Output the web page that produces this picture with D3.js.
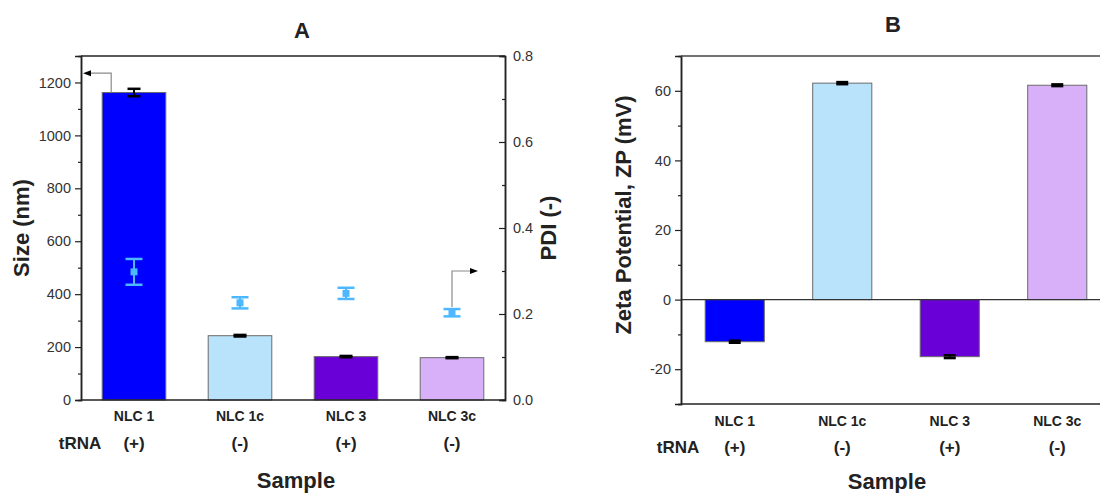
<!DOCTYPE html>
<html>
<head>
<meta charset="utf-8">
<script src="https://cdn.jsdelivr.net/npm/d3@7"></script>
<style>
  html, body { margin: 0; padding: 0; background: #fff; }
  svg { display: block; font-family: "Liberation Sans", Arial, sans-serif; }
</style>
</head>
<body>
<svg id="chart" width="1100" height="493"></svg>
<script>
// Samples and their tRNA loading
const categories = ["NLC 1", "NLC 1c", "NLC 3", "NLC 3c"];
const trnaLabels = ["(+)", "(-)", "(+)", "(-)"];

// Panel A: particle size (left axis) and PDI (right axis)
const sizeValues = [1162, 243, 164, 160];
const sizeErrors = [14, 3, 2.5, 2];
const pdiValues = [0.298, 0.226, 0.248, 0.203];
const pdiErrors = [0.03, 0.013, 0.013, 0.0085];

// Panel B: zeta potential
const zetaValues = [-12.1, 62.2, -16.4, 61.6];
const zetaErrors = [0.3, 0.3, 0.4, 0.25];

const barColors = ["#0000ff", "#b8e3fb", "#6a00d8", "#d7b0f9"];
const pdiColor = "#4db8ff";

const sizeTicks = [0, 200, 400, 600, 800, 1000, 1200];
const sizeMinor = [100, 300, 500, 700, 900, 1100];
const pdiTicks = [0.0, 0.2, 0.4, 0.6, 0.8];
const pdiMinor = [0.1, 0.3, 0.5, 0.7];
const zetaTicks = [-20, 0, 20, 40, 60];
const zetaMinor = [-30, -10, 10, 30, 50];

const svg = d3.select("#chart");
const axisColor = "#222";
const labelColor = "#222";
const plainInt = d => String(d);

const rows = categories.map((c, i) => ({
  cat: c, trna: trnaLabels[i], size: sizeValues[i], sizeErr: sizeErrors[i],
  pdi: pdiValues[i], pdiErr: pdiErrors[i], zeta: zetaValues[i], zetaErr: zetaErrors[i],
  color: barColors[i]
}));

// ---------- Panel A ----------
const A = { left: 81, right: 505, top: 56, bottom: 400 };
const xA = d3.scaleBand().domain(categories).range([A.left, A.right]).paddingInner(0.4).paddingOuter(0.2);
const ySize = d3.scaleLinear().domain([0, 1300]).range([A.bottom, A.top]);
const yPdi = d3.scaleLinear().domain([0, 0.8]).range([A.bottom, A.top]);

const gA = svg.append("g");

gA.selectAll("rect.bar").data(rows).join("rect")
  .attr("class", "bar")
  .attr("x", d => xA(d.cat))
  .attr("width", xA.bandwidth())
  .attr("y", d => ySize(d.size))
  .attr("height", d => ySize(0) - ySize(d.size))
  .attr("fill", d => d.color)
  .attr("stroke", "#6b6b6b")
  .attr("stroke-width", 1);

function errorBar(g, cx, yTop, yBot, capW, color, width) {
  g.append("line").attr("x1", cx).attr("x2", cx).attr("y1", yTop).attr("y2", yBot)
    .attr("stroke", color).attr("stroke-width", width);
  [yTop, yBot].forEach(y => g.append("line")
    .attr("x1", cx - capW / 2).attr("x2", cx + capW / 2).attr("y1", y).attr("y2", y)
    .attr("stroke", color).attr("stroke-width", width + 0.5));
}

rows.forEach(d => {
  const cx = xA(d.cat) + xA.bandwidth() / 2;
  errorBar(gA, cx, ySize(d.size + d.sizeErr), ySize(d.size - d.sizeErr), 13, "#000", 2);
});

// PDI points with error bars
rows.forEach(d => {
  const cx = xA(d.cat) + xA.bandwidth() / 2;
  errorBar(gA, cx, yPdi(d.pdi + d.pdiErr), yPdi(d.pdi - d.pdiErr), 17, pdiColor, 2);
  gA.append("rect").attr("x", cx - 3.5).attr("y", yPdi(d.pdi) - 3.5)
    .attr("width", 7).attr("height", 7).attr("fill", pdiColor);
});

// Arrows pointing each series to its axis
function arrow(g, pts, dir) {
  const [tx, ty] = pts[pts.length - 1];
  const head = 8, half = 3;
  const line = pts.slice();
  line[line.length - 1] = [tx - dir * head, ty];
  g.append("path").attr("d", d3.line()(line)).attr("fill", "none")
    .attr("stroke", "#8a8a8a").attr("stroke-width", 1.2);
  g.append("path")
    .attr("d", `M${tx},${ty} L${tx - dir * head},${ty - half} L${tx - dir * head},${ty + half} Z`)
    .attr("fill", "#000");
}
{
  const x0 = xA("NLC 1") + 9;
  arrow(gA, [[x0, ySize(sizeValues[0])], [x0, ySize(1235)], [A.left + 2, ySize(1235)]], -1);
  const i = 3;
  const cx = xA(categories[i]) + xA.bandwidth() / 2;
  arrow(gA, [[cx, yPdi(pdiValues[i] + pdiErrors[i]) - 2], [cx, yPdi(0.3)], [A.right - 27, yPdi(0.3)]], 1);
}

// Axes A
gA.append("g").attr("transform", `translate(${A.left},0)`)
  .call(d3.axisLeft(ySize).tickValues(sizeTicks).tickSize(6).tickPadding(4).tickFormat(plainInt));
gA.append("g").attr("transform", `translate(${A.left},0)`)
  .call(d3.axisLeft(ySize).tickValues(sizeMinor).tickSize(3).tickFormat(""));
gA.append("g").attr("transform", `translate(${A.right},0)`)
  .call(d3.axisRight(yPdi).tickValues(pdiTicks).tickSize(-6).tickPadding(8).tickFormat(d3.format(".1f")));
gA.append("g").attr("transform", `translate(${A.right},0)`)
  .call(d3.axisRight(yPdi).tickValues(pdiMinor).tickSize(-3).tickFormat(""));
gA.append("line").attr("x1", A.left).attr("x2", A.right).attr("y1", A.top).attr("y2", A.top)
  .attr("stroke", axisColor).attr("stroke-width", 1.5);
gA.append("line").attr("x1", A.left).attr("x2", A.right).attr("y1", A.bottom).attr("y2", A.bottom)
  .attr("stroke", axisColor).attr("stroke-width", 1.5);

// ---------- Panel B ----------
const B = { left: 681, right: 1111, top: 56, bottom: 404 };
const xB = d3.scaleBand().domain(categories).range([B.left, B.right]).paddingInner(0.45).paddingOuter(0.225);
const yZeta = d3.scaleLinear().domain([-30, 70]).range([B.bottom, B.top]);

const gB = svg.append("g");
gB.selectAll("rect.bar").data(rows).join("rect")
  .attr("class", "bar")
  .attr("x", d => xB(d.cat))
  .attr("width", xB.bandwidth())
  .attr("y", d => yZeta(Math.max(0, d.zeta)))
  .attr("height", d => Math.abs(yZeta(d.zeta) - yZeta(0)))
  .attr("fill", d => d.color)
  .attr("stroke", "#6b6b6b")
  .attr("stroke-width", 1);

rows.forEach(d => {
  const cx = xB(d.cat) + xB.bandwidth() / 2;
  errorBar(gB, cx, yZeta(d.zeta + d.zetaErr), yZeta(d.zeta - d.zetaErr), 12, "#000", 2);
});

gB.append("line").attr("x1", B.left).attr("x2", B.right).attr("y1", yZeta(0)).attr("y2", yZeta(0))
  .attr("stroke", "#333").attr("stroke-width", 1.2);

gB.append("g").attr("transform", `translate(${B.left},0)`)
  .call(d3.axisLeft(yZeta).tickValues(zetaTicks).tickSize(6).tickPadding(4).tickFormat(plainInt));
gB.append("g").attr("transform", `translate(${B.left},0)`)
  .call(d3.axisLeft(yZeta).tickValues(zetaMinor).tickSize(3).tickFormat(""));
gB.append("line").attr("x1", B.left).attr("x2", B.right).attr("y1", B.top).attr("y2", B.top)
  .attr("stroke", "#444").attr("stroke-width", 1.5);
gB.append("line").attr("x1", B.left).attr("x2", B.right).attr("y1", B.bottom).attr("y2", B.bottom)
  .attr("stroke", axisColor).attr("stroke-width", 1.5);

// Axis styling
svg.selectAll(".domain").attr("stroke", axisColor).attr("stroke-width", 1.5);
svg.selectAll(".tick line").attr("stroke", axisColor).attr("stroke-width", 1.2);
svg.selectAll(".tick text").attr("font-size", 14.5).attr("fill", "#333")
  .attr("font-family", "'Liberation Sans', Arial, sans-serif");

// ---------- Text ----------
function text(x, y, str, size, opts = {}) {
  const t = svg.append("text").attr("x", x).attr("y", y).text(str)
    .attr("font-size", size).attr("font-weight", opts.weight || "bold")
    .attr("fill", labelColor).attr("text-anchor", opts.anchor || "middle")
    .attr("dy", "0.35em");
  if (opts.rotate) t.attr("transform", `rotate(${opts.rotate},${x},${y})`);
  return t;
}

// Titles
text((A.left + A.right) / 2 + 9, 30, "A", 22);
text(893, 24, "B", 22);

// Category and tRNA rows
categories.forEach((c, i) => {
  const ca = xA(c) + xA.bandwidth() / 2;
  text(ca, 416.5, c, 14);
  text(ca, 443.5, trnaLabels[i], 17);
  const cb = xB(c) + xB.bandwidth() / 2;
  text(cb, 421.5, c, 14);
  text(cb, 447, trnaLabels[i], 17);
});
text(A.left - 1, 443.5, "tRNA", 17);
text(B.left - 3, 447, "tRNA", 17);

// Axis titles
text(296, 480, "Sample", 22);
text(887, 481.5, "Sample", 22);
text(21, 228, "Size (nm)", 22, { rotate: -90 });
text(548, 228, "PDI (-)", 22, { rotate: -90 });
text(623, 215, "Zeta Potential, ZP (mV)", 22, { rotate: -90 });
</script>
</body>
</html>
